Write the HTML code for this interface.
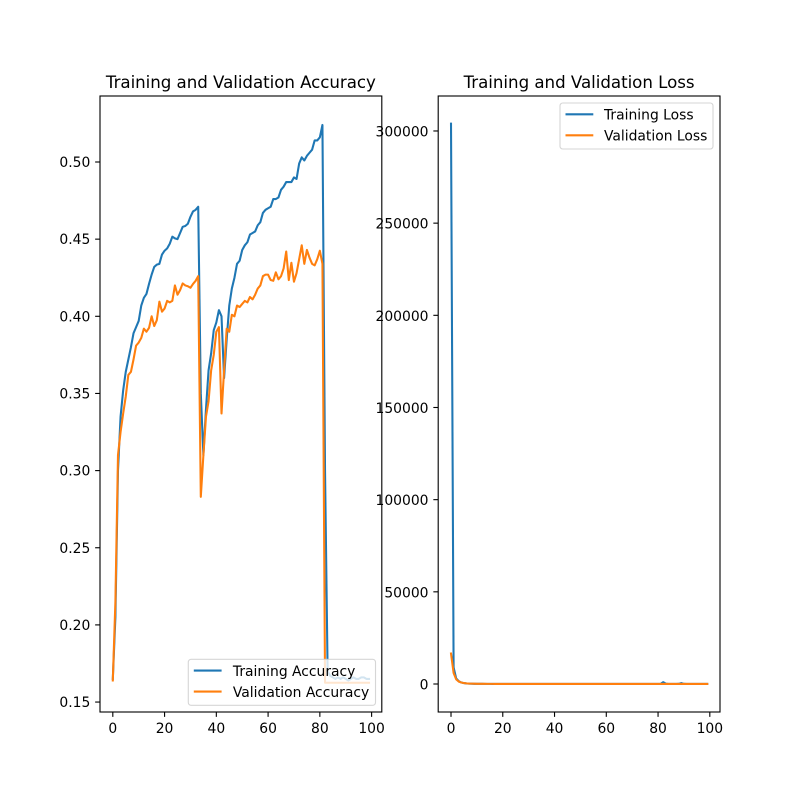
<!DOCTYPE html>
<html>
<head>
<meta charset="utf-8">
<style>
html,body{margin:0;padding:0;background:#fff;}
svg{display:block;font-family:"DejaVu Sans","Liberation Sans",sans-serif;fill:#000;}
</style>
</head>
<body>
<svg id="fig" xmlns="http://www.w3.org/2000/svg" width="800" height="800" viewBox="0 0 800 800">
<rect width="800" height="800" fill="#fff"/>
<defs>
<clipPath id="clip-left"><rect x="100" y="96" width="281.8" height="616"/></clipPath>
<clipPath id="clip-right"><rect x="438.2" y="96" width="281.8" height="616"/></clipPath>
</defs>
<g id="left"></g>
<g id="right"></g>
</svg>
<script>
const epochTicks = [0, 20, 40, 60, 80, 100];
const accuracyTicks = [0.15, 0.20, 0.25, 0.30, 0.35, 0.40, 0.45, 0.50];
const lossTicks = [0, 50000, 100000, 150000, 200000, 250000, 300000];

const trainingAccuracy = [
0.165,0.205,0.300,0.335,0.352,0.364,0.372,0.380,0.389,0.393,
0.397,0.407,0.412,0.4145,0.421,0.427,0.432,0.4335,0.434,0.440,
0.4425,0.444,0.447,0.4516,0.4505,0.450,0.454,0.458,0.4585,0.460,
0.4645,0.468,0.469,0.471,0.350,0.310,0.340,0.365,0.376,0.391,
0.396,0.404,0.400,0.360,0.385,0.407,0.418,0.425,0.434,0.436,
0.443,0.446,0.448,0.453,0.454,0.455,0.459,0.461,0.467,0.469,
0.470,0.471,0.476,0.476,0.477,0.482,0.484,0.487,0.487,0.487,
0.490,0.489,0.499,0.503,0.501,0.504,0.506,0.508,0.514,0.514,
0.516,0.524,0.300,0.170,0.167,0.166,0.165,0.166,0.165,0.166,
0.165,0.164,0.165,0.166,0.165,0.165,0.166,0.166,0.165,0.165];

const validationAccuracy = [
0.164,0.215,0.310,0.325,0.337,0.348,0.362,0.364,0.372,0.381,
0.383,0.386,0.392,0.390,0.3925,0.400,0.3937,0.3975,0.4095,0.403,
0.405,0.410,0.409,0.410,0.420,0.414,0.417,0.4213,0.420,0.4195,
0.4185,0.421,0.423,0.426,0.283,0.310,0.335,0.345,0.365,0.375,
0.390,0.393,0.337,0.365,0.392,0.390,0.401,0.400,0.407,0.406,
0.408,0.410,0.409,0.4125,0.411,0.414,0.418,0.420,0.426,0.427,
0.427,0.4235,0.423,0.4285,0.424,0.426,0.431,0.442,0.4235,0.4347,
0.4224,0.428,0.437,0.446,0.434,0.443,0.438,0.434,0.433,0.437,
0.4425,0.434,0.1625,0.1625,0.1625,0.1625,0.1625,0.1625,0.1625,0.1625,
0.1625,0.1625,0.1625,0.1625,0.1625,0.1625,0.1625,0.1625,0.1625,0.1625];

const trainingLoss = [
304000,9000,3000,1500,800,500,300,200,150,120,
100,90,80,70,60,60,50,50,50,50,
40,40,40,40,40,40,40,40,40,40,
40,40,40,40,60,60,50,50,40,40,
40,40,50,50,40,40,40,40,40,40,
40,40,40,40,40,40,40,40,40,40,
40,40,40,40,40,40,40,40,40,40,
40,40,40,40,40,40,40,40,40,40,
40,100,1000,200,60,50,50,50,100,500,
100,50,50,50,50,50,50,50,50,50];

const validationLoss = [
16500,6000,2500,1300,800,500,350,250,200,150,
120,100,90,80,70,60,60,50,50,50,
40,40,40,40,40,40,40,40,40,40,
40,40,40,40,50,50,40,40,40,40,
40,40,50,40,40,40,40,40,40,40,
40,40,40,40,40,40,40,40,40,40,
40,40,40,40,40,40,40,40,40,40,
40,40,40,40,40,40,40,40,40,40,
40,40,50,50,50,50,50,50,50,50,
50,50,50,50,50,50,50,50,50,50];

const NS = 'http://www.w3.org/2000/svg';
const BLUE = '#1f77b4', ORANGE = '#ff7f0e';

function mk(parent, tag, attrs, txt) {
  const e = document.createElementNS(NS, tag);
  for (const k in attrs) e.setAttribute(k, attrs[k]);
  if (txt !== undefined) e.textContent = txt;
  parent.appendChild(e);
  return e;
}

function drawPanel(root, cfg) {
  const L = cfg.left, T = 96, W = 281.8, H = 616;
  const xPx = v => L + 12.81 + v * 2.588;
  const yPx = cfg.y;

  cfg.series.forEach((s) => {
    const line = mk(root, 'polyline', {
      points: s.values.map((v, i) => xPx(i).toFixed(2) + ',' + yPx(v).toFixed(2)).join(' '),
      fill: 'none', stroke: s.color, 'stroke-width': 2.08,
      'stroke-linejoin': 'round', 'stroke-linecap': 'square',
      'clip-path': 'url(#' + cfg.clip + ')'
    });
    
    
  });

  const frame = mk(root, 'rect', {x: L, y: T, width: W, height: H, fill: 'none', stroke: '#000', 'stroke-width': 1.11});
  
  

  epochTicks.forEach(t => {
    const x = xPx(t);
    const tick = mk(root, 'line', {x1: x, x2: x, y1: T + H, y2: T + H + 4.86, stroke: '#000', 'stroke-width': 1.11});
    
    
    const label = mk(root, 'text', {x: x, y: 733, 'text-anchor': 'middle', 'font-size': 13.89}, String(t));
    
    
  });

  cfg.ticks.forEach(t => {
    const y = yPx(t);
    const tick = mk(root, 'line', {x1: L - 4.86, x2: L, y1: y, y2: y, stroke: '#000', 'stroke-width': 1.11});
    
    
    const label = mk(root, 'text', {x: L - 9.7, y: y + 5.05 + cfg.tickShift, 'text-anchor': 'end', 'font-size': 13.89}, cfg.fmt(t));
    
    
  });

  const title = mk(root, 'text', {x: L + W / 2, y: 88, 'text-anchor': 'middle', 'font-size': 16.67, textLength: cfg.titleWidth, lengthAdjust: 'spacing'}, cfg.title);
  
  

  const lg = cfg.legend;
  const group = mk(root, 'g', {});
  
  
  mk(group, 'rect', {x: lg.x, y: lg.y, width: lg.w, height: 46, rx: 2.8, ry: 2.8, fill: '#fff', 'fill-opacity': 0.8, stroke: '#ccc', 'stroke-opacity': 0.8, 'stroke-width': 1.11});
  cfg.series.forEach((s, i) => {
    const ly = lg.y + 11.3 + i * 21;
    const handle = mk(group, 'line', {x1: lg.x + 5.5, x2: lg.x + 33.3, y1: ly, y2: ly, stroke: s.color, 'stroke-width': 2.08});
    
    
    const text = mk(group, 'text', {x: lg.textX, y: ly + lg.textDy, 'font-size': 13.89}, s.label);
    
    
  });
}

drawPanel(document.getElementById('left'), {
  left: 100, clip: 'clip-left', tickShift: 0, titleWidth: 270,
  y: v => 162 + (0.5 - v) * 1543,
  ticks: accuracyTicks,
  fmt: t => t.toFixed(2),
  title: 'Training and Validation Accuracy',
  legend: {x: 188.3, y: 659.3, w: 187.2, textX: 232.9, textDy: 5.6},
  series: [
    {name: 'training-accuracy', label: 'Training Accuracy', color: BLUE, values: trainingAccuracy},
    {name: 'validation-accuracy', label: 'Validation Accuracy', color: ORANGE, values: validationAccuracy}
  ]
});

drawPanel(document.getElementById('right'), {
  left: 438.2, clip: 'clip-right', tickShift: 0.5, titleWidth: 231,
  y: v => 684 - v * 0.0018434,
  ticks: lossTicks,
  fmt: t => String(t),
  title: 'Training and Validation Loss',
  legend: {x: 560, y: 103, w: 153, textX: 604, textDy: 5},
  series: [
    {name: 'training-loss', label: 'Training Loss', color: BLUE, values: trainingLoss},
    {name: 'validation-loss', label: 'Validation Loss', color: ORANGE, values: validationLoss}
  ]
});
</script>
</body>
</html>
